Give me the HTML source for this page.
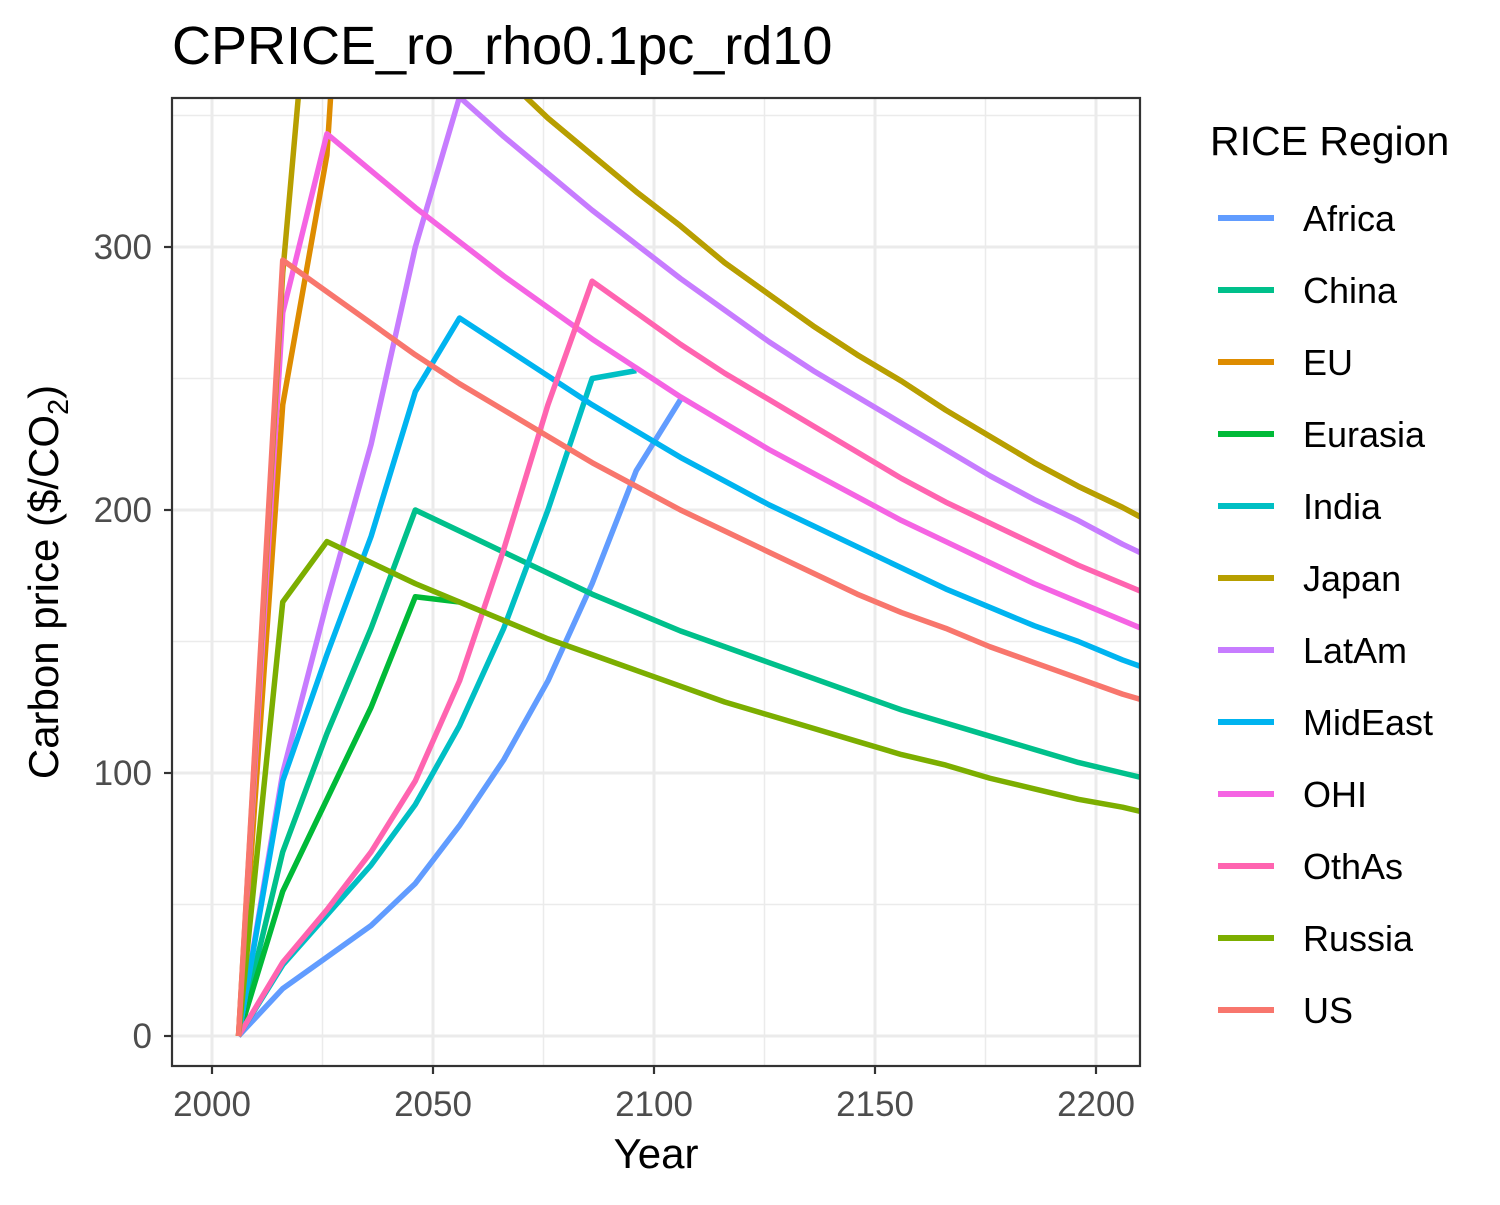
<!DOCTYPE html>
<html><head><meta charset="utf-8"><style>
body{margin:0;background:#fff;font-family:"Liberation Sans",Arial,sans-serif}
</style></head><body>
<svg id="c" width="1500" height="1200" xmlns="http://www.w3.org/2000/svg">
<defs><clipPath id="clip"><rect x="172" y="98" width="968" height="968"/></clipPath></defs>
<text x="172" y="64" font-size="54" fill="#000">CPRICE_ro_rho0.1pc_rd10</text>
<g id="grid"></g>
<g id="lines" clip-path="url(#clip)"></g>
<rect x="172" y="98" width="968" height="968" fill="none" stroke="#333" stroke-width="2.2"/>
<g id="axes"></g>
<text x="656" y="1168" font-size="42" text-anchor="middle">Year</text>
<text transform="translate(58,582) rotate(-90)" font-size="42" text-anchor="middle">Carbon price ($/CO<tspan font-size="29" dy="10">2</tspan><tspan dy="-10">)</tspan></text>
<text x="1210" y="155" font-size="41">RICE Region</text>
<g id="legend"></g>
</svg>
<script>
const years=[2006,2016,2026,2036,2046,2056,2066,2076,2086,2096,2106,2116,2126,2136,2146,2156,2166,2176,2186,2196,2206,2216];
const regions=["Africa","China","EU","Eurasia","India","Japan","LatAm","MidEast","OHI","OthAs","Russia","US"];
const colors=["#619CFF","#00C08B","#DE8C00","#00BA38","#00BFC4","#B79F00","#C77CFF","#00B4F0","#F564E3","#FF64B0","#7CAE00","#F8766D"];
const africa=[0,18,30,42,58,80,105,135,172,215,242];
const china=[0,70,115,155,200,192,184,176,168,161,154,148,142,136,130,124,119,114,109,104,100,96];
const eu=[0,240,335,600,398,382,365,349,335,321,308,294,282,270,259,249,238,228,218,209,201,192];
const eurasia=[0,55,90,125,167,165];
const india=[0,27,46,65,88,118,155,200,250,253];
const japan=[0,290,480,415,398,382,365,349,335,321,308,294,282,270,259,249,238,228,218,209,201,192];
const latam=[0,100,165,225,300,357,342,328,314,301,288,276,264,253,243,233,223,213,204,196,187,179];
const mideast=[0,97,145,190,245,273,262,251,240,230,220,211,202,194,186,178,170,163,156,150,143,137];
const ohi=[0,275,343,329,315,302,289,277,265,254,243,233,223,214,205,196,188,180,172,165,158,151];
const othas=[0,28,48,70,97,135,185,240,287,275,263,252,242,232,222,212,203,195,187,179,172,165];
const russia=[0,165,188,180,172,165,158,151,145,139,133,127,122,117,112,107,103,98,94,90,87,83];
const us=[0,295,283,271,259,248,238,228,218,209,200,192,184,176,168,161,155,148,142,136,130,125];
const series=[africa,china,eu,eurasia,india,latam,mideast,ohi,othas,japan,russia,us];
const seriesIdx=[0,1,2,3,4,6,7,8,9,5,10,11];
const xTicks=[2000,2050,2100,2150,2200];
const yTicks=[0,100,200,300];
const X=v=>212+(v-2000)*4.42;
const Y=v=>1036-v*2.63;
const NS="http://www.w3.org/2000/svg";
function mk(t,a,p){const e=document.createElementNS(NS,t);for(const k in a)e.setAttribute(k,a[k]);p.appendChild(e);return e;}
const g=document.getElementById('grid'),ax=document.getElementById('axes');
mk('rect',{x:172,y:98,width:968,height:968,fill:'#fff'},g);
[2025,2075,2125,2175].forEach(v=>{const l=mk('line',{x1:X(v),x2:X(v),y1:98,y2:1066,stroke:'#ebebeb','stroke-width':1.5},g);

});
[50,150,250,350].forEach(v=>{const l=mk('line',{x1:172,x2:1140,y1:Y(v),y2:Y(v),stroke:'#ebebeb','stroke-width':1.5},g);

});
xTicks.forEach(v=>{const l=mk('line',{x1:X(v),x2:X(v),y1:98,y2:1066,stroke:'#ebebeb','stroke-width':3},g);


const t=mk('line',{x1:X(v),x2:X(v),y1:1066,y2:1074,stroke:'#333','stroke-width':2.2},ax);


const s=mk('text',{x:X(v),y:1116,'font-size':35,fill:'#4d4d4d','text-anchor':'middle'},ax);s.textContent=v;

});
yTicks.forEach(v=>{const l=mk('line',{x1:172,x2:1140,y1:Y(v),y2:Y(v),stroke:'#ebebeb','stroke-width':3},g);


const t=mk('line',{x1:164,x2:172,y1:Y(v),y2:Y(v),stroke:'#333','stroke-width':2.2},ax);


const s=mk('text',{x:152,y:Y(v)+12,'font-size':35,fill:'#4d4d4d','text-anchor':'end'},ax);s.textContent=v;

});
const lg=document.getElementById('lines');
series.forEach((d,i)=>{const k=seriesIdx[i];
const p=mk('polyline',{points:d.map((v,j)=>X(years[j])+','+Y(v)).join(' '),fill:'none',stroke:colors[k],'stroke-width':5.5,'stroke-linejoin':'round'},lg);

});
const leg=document.getElementById('legend');
regions.forEach((r,i)=>{const y=218+i*72;
const l=mk('line',{x1:1218,x2:1274,y1:y,y2:y,stroke:colors[i],'stroke-width':6},leg);


const t=mk('text',{x:1303,y:y+13,'font-size':36},leg);t.textContent=r;

});
</script>
</body></html>
